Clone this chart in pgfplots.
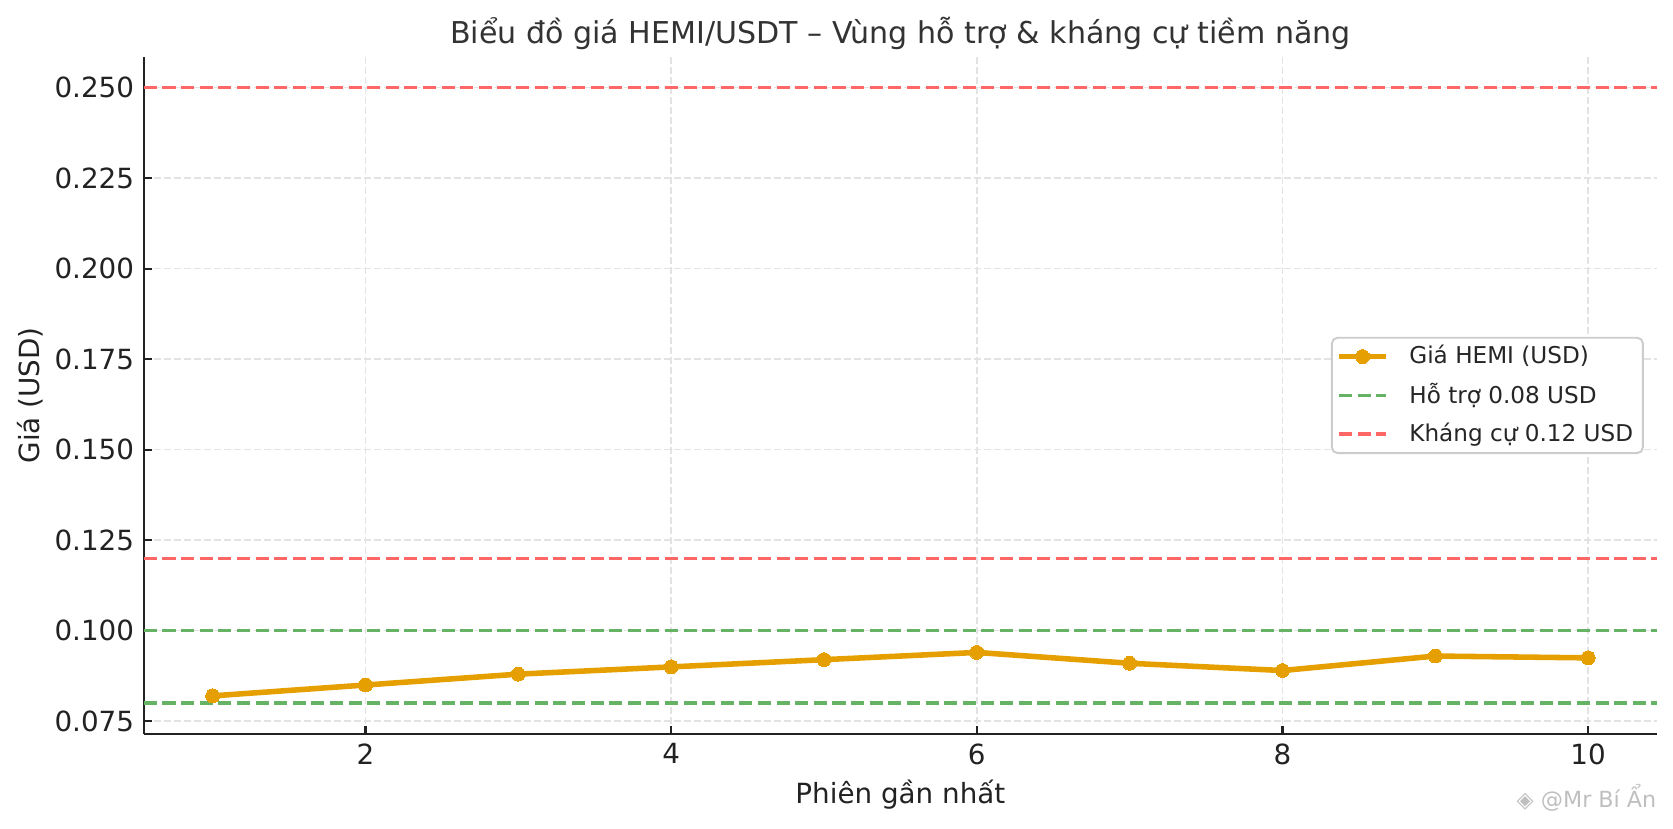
\documentclass[border=0pt]{standalone}
\usepackage{fontspec}
\setmainfont{DejaVu Sans}
\usepackage{pgfplots}
\pgfplotsset{compat=1.18}
\definecolor{hemiorange}{HTML}{E69F00}
\definecolor{supgreen}{HTML}{66B366}
\definecolor{resred}{HTML}{FF6666}
\definecolor{gridgray}{HTML}{E3E3E3}
\definecolor{txt}{HTML}{222222}
\begin{document}
\begin{tikzpicture}
\useasboundingbox (-51.8pt,-33.9pt) rectangle (550.5pt,264.2pt);
\begin{axis}[
  at={(0,0)}, anchor=south west,
  scale only axis, width=544.7pt, height=243.7pt,
  xmin=0.55, xmax=10.45, ymin=0.0715, ymax=0.2585,
  axis x line*=bottom, axis y line*=left,
  axis line style={line width=0.9pt, color=txt},
  xtick={2,4,6,8,10},
  ytick={0.075,0.1,0.125,0.15,0.175,0.2,0.225,0.25},
  scaled y ticks=false,
  /pgf/number format/assume math mode=true,
  tick align=inside, major tick length=3pt,
  tick style={line width=0.8pt, color=txt},
  xticklabel style={font=\fontsize{10}{12}\selectfont, text=txt},
  yticklabel style={font=\fontsize{10}{12}\selectfont, text=txt,
    /pgf/number format/.cd, fixed, fixed zerofill, precision=3},
  grid=major,
  major grid style={dash pattern=on 2.5pt off 1.1pt, line width=0.55pt, color=gridgray},
  title={Biểu đồ giá HEMI/USDT – Vùng hỗ trợ \& kháng cự tiềm năng},
  every axis title/.style={at={(axis description cs:0.5,1.0353)}, anchor=center,
    font=\fontsize{10.83}{13}\selectfont, text=black!80},
  xlabel={Phiên gần nhất},
  xlabel style={at={(axis description cs:0.5,-0.0903)}, anchor=center,
    font=\fontsize{10}{12}\selectfont, text=txt},
  ylabel={Giá (USD)},
  every axis y label/.style={at={(axis description cs:-0.0753,0.5)}, rotate=90, anchor=center,
    font=\fontsize{10}{12}\selectfont, text=txt},
  legend style={at={(1,0.5)}, anchor=east, xshift=-4.7pt,
    font=\fontsize{8.33}{10}\selectfont, text=black!85,
    draw=black!20, line width=0.7pt, rounded corners=2pt, fill=white,
    inner xsep=1.5pt, inner ysep=0.7pt, row sep=1.5pt,
    /tikz/every odd column/.append style={column sep=5.3pt}},
  legend cell align=left,
]
\addplot[color=hemiorange, line width=2pt, mark=*, mark size=2.5pt,
  mark options={solid, fill=hemiorange, draw=hemiorange, line width=0pt}]
  coordinates {(1,0.082) (2,0.085) (3,0.088) (4,0.090) (5,0.092)
               (6,0.094) (7,0.091) (8,0.089) (9,0.093) (10,0.0925)};
\addlegendentry{Giá HEMI (USD)}
\addplot[color=supgreen, line width=1.25pt, dash pattern=on 4.7pt off 2pt]
  coordinates {(0.55,0.08) (10.45,0.08)};
\addlegendentry{Hỗ trợ 0.08 USD}
\addplot[color=resred, line width=1.25pt, dash pattern=on 4.7pt off 2pt]
  coordinates {(0.55,0.12) (10.45,0.12)};
\addlegendentry{Kháng cự 0.12 USD}
\addplot[color=supgreen, line width=1.25pt, dash pattern=on 4.7pt off 2pt, forget plot]
  coordinates {(0.55,0.10) (10.45,0.10)};
\addplot[color=resred, line width=1.25pt, dash pattern=on 4.7pt off 2pt, forget plot]
  coordinates {(0.55,0.25) (10.45,0.25)};
\end{axis}
\node[text=black!25, font=\fontsize{8}{9}\selectfont, anchor=east] at (548pt,-23pt) {◈ @Mr Bí Ẩn};
\end{tikzpicture}
\end{document}
